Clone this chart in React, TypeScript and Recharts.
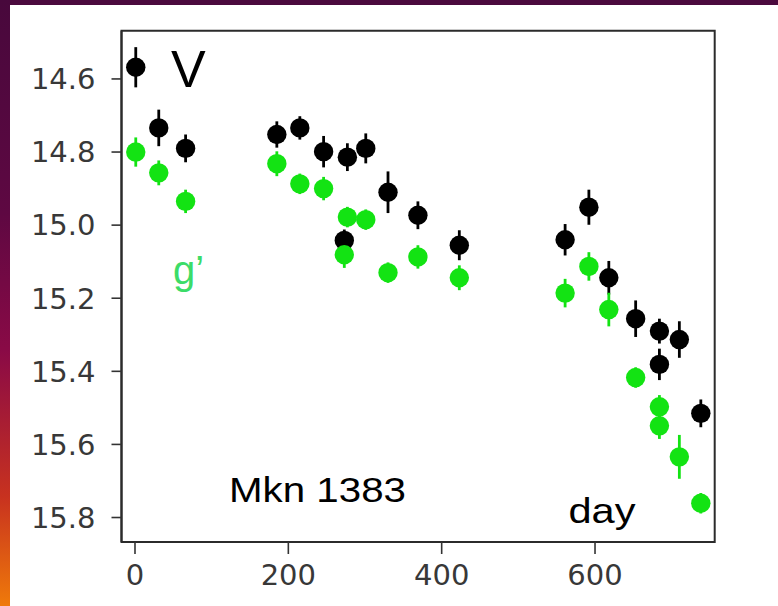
import { ScatterChart, Scatter, XAxis, YAxis, ErrorBar, ReferenceArea } from 'recharts';

// V band (black)
const vDays = [1, 31, 66, 185, 215, 246, 273, 277, 301, 330, 369, 423, 561, 592, 618, 653, 684, 684, 710, 738];
const vMag = [14.568, 14.734, 14.79, 14.752, 14.734, 14.799, 15.042, 14.814, 14.79, 14.91, 14.973, 15.055, 15.04, 14.951, 15.144, 15.256, 15.29, 15.381, 15.313, 15.515];
const vErr = [0.055, 0.05, 0.038, 0.036, 0.032, 0.043, 0.03, 0.038, 0.041, 0.057, 0.038, 0.041, 0.043, 0.048, 0.046, 0.05, 0.034, 0.043, 0.05, 0.038];

// g' band (green)
const gDays = [1, 31, 66, 185, 215, 246, 273, 277, 301, 330, 369, 423, 561, 592, 618, 653, 684, 684, 710, 738];
const gMag = [14.8, 14.857, 14.935, 14.832, 14.887, 14.9, 15.081, 14.978, 14.985, 15.13, 15.087, 15.144, 15.186, 15.113, 15.231, 15.417, 15.497, 15.549, 15.634, 15.761];
const gErr = [0.04, 0.034, 0.032, 0.034, 0.028, 0.032, 0.036, 0.028, 0.028, 0.028, 0.032, 0.034, 0.039, 0.039, 0.046, 0.028, 0.032, 0.036, 0.06, 0.028];

const xTicks = [0, 200, 400, 600];
const yTicks = [14.6, 14.8, 15.0, 15.2, 15.4, 15.6, 15.8];
const xDomain: [number, number] = [-17.6, 756.1];
const yDomain: [number, number] = [14.468, 15.867];

const vData = vDays.map((d, i) => ({ day: d, mag: vMag[i], err: vErr[i] }));
const gData = gDays.map((d, i) => ({ day: d, mag: gMag[i], err: gErr[i] }));

const GREEN = '#13e313';
const tickStyle = { fontSize: 29, fill: '#383838', fontFamily: 'DejaVu Sans' };

const dot = (color: string) => (p: any) => <circle cx={p.cx} cy={p.cy} r={9.7} fill={color} />;

export default function App() {
  return (
    <div style={{ position: 'fixed', left: 0, top: 0, width: 778, height: 606, background: '#4b0a3e', overflow: 'hidden' }}>
      <div style={{ position: 'absolute', left: 0, top: 0, width: 10, height: 606, background: 'linear-gradient(to bottom, #48083c 0%, #5e0842 35%, #8a0a46 58%, #c8321f 82%, #ef7a0a 100%)' }} />
      <div style={{ position: 'absolute', left: 10, top: 5, width: 768, height: 601, background: '#fff' }} />
      <div style={{ position: 'absolute', left: 0, top: 0 }}>
        <ScatterChart width={778} height={606} margin={{ top: 30.7, right: 63.3, bottom: 0, left: 21.5 }}>
          <XAxis
            type="number"
            dataKey="day"
            domain={xDomain}
            ticks={xTicks}
            allowDataOverflow
            height={64}
            tickSize={12}
            tickMargin={10}
            tick={tickStyle}
            axisLine={{ stroke: '#2b2b2b', strokeWidth: 2 }}
            tickLine={{ stroke: '#333', strokeWidth: 1.6 }}
          />
          <YAxis
            type="number"
            dataKey="mag"
            domain={yDomain}
            ticks={yTicks}
            reversed
            allowDataOverflow
            width={100}
            tickSize={10}
            tickMargin={16}
            tick={tickStyle}
            tickFormatter={(v: number) => v.toFixed(1)}
            axisLine={{ stroke: '#2b2b2b', strokeWidth: 2 }}
            tickLine={{ stroke: '#333', strokeWidth: 1.6 }}
          />
          <ReferenceArea x1={xDomain[0]} x2={xDomain[1]} y1={yDomain[0]} y2={yDomain[1]} fill="none" stroke="#2b2b2b" strokeWidth={2} ifOverflow="visible" />
          <Scatter data={vData} fill="#000" shape={dot('#000')} isAnimationActive={false}>
            <ErrorBar dataKey="err" direction="y" width={0} stroke="#000" strokeWidth={2.8} isAnimationActive={false} />
          </Scatter>
          <Scatter data={gData} fill={GREEN} shape={dot(GREEN)} isAnimationActive={false}>
            <ErrorBar dataKey="err" direction="y" width={0} stroke={GREEN} strokeWidth={2.8} isAnimationActive={false} />
          </Scatter>
        </ScatterChart>
      </div>
      <svg width={778} height={606} style={{ position: 'absolute', left: 0, top: 0, pointerEvents: 'none' }}>
        <text x={171} y={86.7} fontSize={52} fontFamily="Liberation Sans" fill="#000">V</text>
        <text x={173} y={284} fontSize={40} fontFamily="Liberation Sans" fill="#3cdc68">g’</text>
        <text x={229} y={502.3} fontSize={35} fontFamily="Liberation Sans" fill="#000" textLength={177} lengthAdjust="spacingAndGlyphs">Mkn 1383</text>
        <text x={568.5} y={523.3} fontSize={35} fontFamily="Liberation Sans" fill="#000" textLength={67} lengthAdjust="spacingAndGlyphs">day</text>
      </svg>
    </div>
  );
}
